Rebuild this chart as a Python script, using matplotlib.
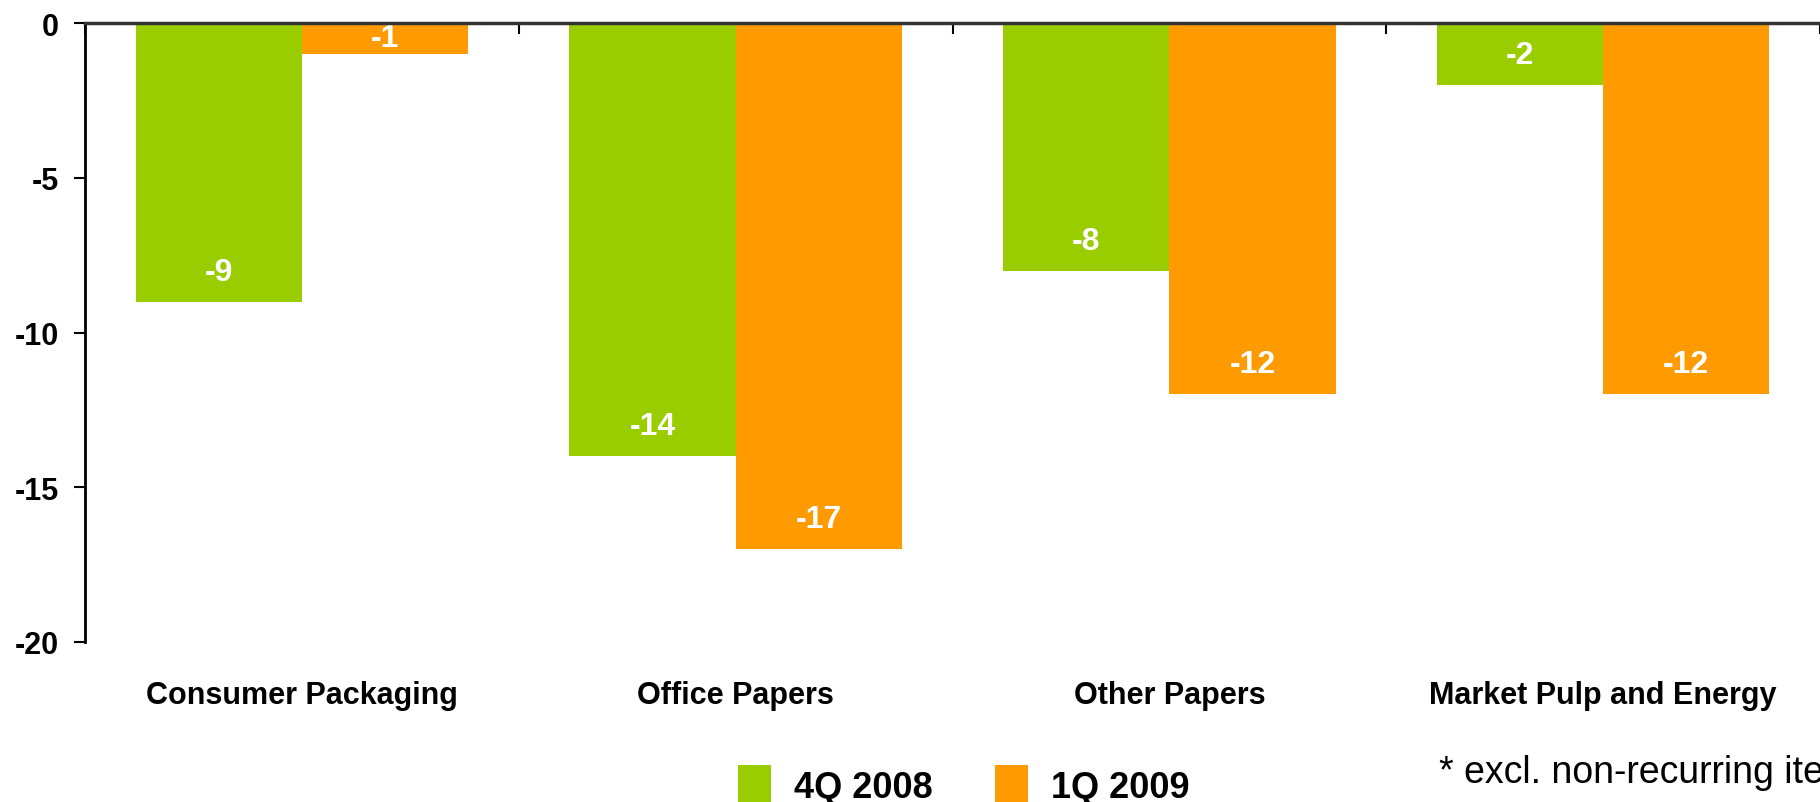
import matplotlib.pyplot as plt
import numpy as np

plt.rcParams['font.family'] = ['Liberation Sans', 'DejaVu Sans']

# operating margin change by segment
segments = ["Consumer Packaging", "Office Papers", "Other Papers", "Market Pulp and Energy"]
q4_2008 = [-9, -14, -8, -2]
q1_2009 = [-1, -17, -12, -12]
series_names = ["4Q 2008", "1Q 2009"]
y_ticks = [0, -5, -10, -15, -20]

GREEN = "#9ACD00"
ORANGE = "#FF9B00"

fig = plt.figure(figsize=(18.2, 8.03), dpi=100)
ax = fig.add_axes([85 / 1820, 1 - 643 / 803, 1 - 85 / 1820, (643 - 24) / 803])

x = np.arange(len(segments))
w = 0.383
b1 = ax.bar(x - w / 2, q4_2008, w, color=GREEN, label=series_names[0], zorder=2)
b2 = ax.bar(x + w / 2, q1_2009, w, color=ORANGE, label=series_names[1], zorder=2)

ax.set_xlim(-0.5, len(segments) - 0.5)
ax.set_ylim(-20, 0)

# value labels inside the end of each bar
px_per_unit = (643 - 24) / 20
for bars, vals in ((b1, q4_2008), (b2, q1_2009)):
    for rect, v in zip(bars, vals):
        if abs(v) < 1.5:
            y = v / 2
        else:
            y = v + 30 / px_per_unit
        ax.text(rect.get_x() + rect.get_width() / 2, y, f"{v}",
                ha="center", va="center", color="white",
                fontsize=23, fontweight="bold", zorder=3)

# axes: y on the left, category axis along zero at the top
for s in ("right", "bottom"):
    ax.spines[s].set_visible(False)
ax.spines["left"].set_linewidth(2)
ax.spines["top"].set_linewidth(2.5)
ax.spines["top"].set_color("#333333")
ax.spines["top"].set_zorder(4)

ax.set_yticks(y_ticks)
ax.set_yticklabels([str(t) for t in y_ticks])
ax.tick_params(axis="y", length=8, width=1.5, pad=11, labelsize=22)
for lab in ax.get_yticklabels():
    lab.set_fontweight("bold")

ax.xaxis.set_ticks_position("top")
ax.set_xticks(np.arange(len(segments) + 1) - 0.5)
ax.set_xticklabels([])
ax.tick_params(axis="x", direction="in", length=8, width=1.5)

# category names below the plot
for i, name in enumerate(segments):
    ax.text(i, -20 - 53 / px_per_unit, name, ha="center", va="center",
            fontsize=22, fontweight="bold", clip_on=False)

fig.legend(handles=[b1, b2], labels=series_names, loc="center",
           bbox_to_anchor=(964 / 1820, 1 - 786 / 803), ncol=2, frameon=False,
           prop={"size": 26, "weight": "bold"}, handlelength=0.92,
           handleheight=1.3, handletextpad=0.64, columnspacing=1.72,
           borderpad=0.2)

fig.text(1439 / 1820, 1 - 773 / 803, "* excl. non-recurring items",
         fontsize=27, ha="left", va="center")

fig.savefig("out.png", dpi=100)
